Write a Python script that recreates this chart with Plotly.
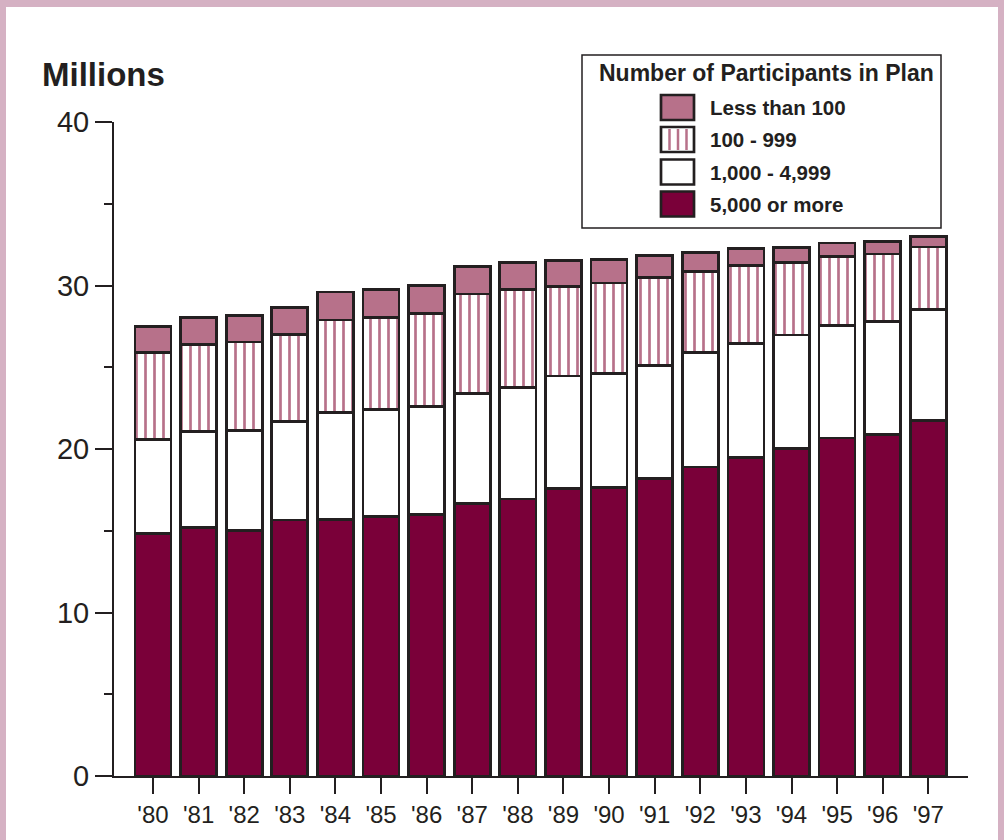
import plotly.graph_objects as go

# ---- data (millions of participants) ----
years = ["'80", "'81", "'82", "'83", "'84", "'85", "'86", "'87", "'88",
         "'89", "'90", "'91", "'92", "'93", "'94", "'95", "'96", "'97"]
plan_5000_plus = [14.84, 15.19, 15.02, 15.66, 15.70, 15.86, 16.00, 16.68, 16.94,
                  17.60, 17.65, 18.18, 18.90, 19.47, 20.02, 20.67, 20.90, 21.76]
plan_1000_4999 = [5.76, 5.89, 6.12, 6.01, 6.52, 6.56, 6.60, 6.72, 6.83,
                  6.87, 6.98, 6.94, 7.01, 6.99, 6.95, 6.89, 6.89, 6.78]
plan_100_999 = [5.30, 5.32, 5.40, 5.34, 5.67, 5.61, 5.70, 6.08, 5.97,
                5.46, 5.52, 5.36, 4.96, 4.75, 4.43, 4.22, 4.14, 3.81]
plan_under_100 = [1.60, 1.65, 1.62, 1.64, 1.71, 1.74, 1.71, 1.69, 1.68,
                  1.59, 1.43, 1.36, 1.15, 1.04, 0.91, 0.82, 0.75, 0.65]
series_names = ["5,000 or more", "1,000 - 4,999", "100 - 999", "Less than 100"]
y_ticks = [0, 10, 20, 30, 40]
legend_title = "Number of Participants in Plan"
y_title = "Millions"

# ---- style ----
INK = "#231f20"
DARK = "#7a0039"
PINK = "#b7718a"
FRAME = "#d5b1c3"
FONT = "Liberation Sans, Arial, sans-serif"
W, H = 1004, 840
L, R, T, B = 114, 36, 122, 64


def px(x):
    return (x - L) / (W - L - R)


def py(y):
    return (H - B - y) / (H - T - B)


outline = dict(color=INK, width=2.7)
fig = go.Figure()
fig.add_trace(go.Bar(x=years, y=plan_5000_plus, name=series_names[0],
                     marker=dict(color=DARK, line=outline)))
fig.add_trace(go.Bar(x=years, y=plan_1000_4999, name=series_names[1],
                     marker=dict(color="white", line=outline)))
fig.add_trace(go.Bar(x=years, y=plan_100_999, name=series_names[2],
                     marker=dict(color="white", line=outline,
                                 pattern=dict(shape="|", fgcolor=PINK, bgcolor="white",
                                              fgopacity=1, size=9, solidity=0.3))))
fig.add_trace(go.Bar(x=years, y=plan_under_100, name=series_names[3],
                     marker=dict(color=PINK, line=outline)))

shapes = []
# pink frame
shapes.append(dict(type="rect", xref="paper", yref="paper", layer="below",
                   x0=px(0), x1=px(6), y0=py(H), y1=py(0), fillcolor=FRAME, line_width=0))
shapes.append(dict(type="rect", xref="paper", yref="paper", layer="below",
                   x0=px(0), x1=px(W), y0=py(7), y1=py(0), fillcolor=FRAME, line_width=0))
shapes.append(dict(type="rect", xref="paper", yref="paper", layer="below",
                   x0=px(W - 6), x1=px(W), y0=py(H), y1=py(0), fillcolor=FRAME, line_width=0))
# legend box
shapes.append(dict(type="rect", xref="paper", yref="paper",
                   x0=px(582), x1=px(941), y0=py(228), y1=py(55),
                   fillcolor="white", line=dict(color=INK, width=1.5)))
legend_rows = [(series_names[3], 107.5, PINK, False),
               (series_names[2], 139.5, "white", True),
               (series_names[1], 172, "white", False),
               (series_names[0], 204, DARK, False)]
annotations = []
for name, cy, fill, striped in legend_rows:
    shapes.append(dict(type="rect", xref="paper", yref="paper",
                       x0=px(661), x1=px(694), y0=py(cy + 12.5), y1=py(cy - 12.5),
                       fillcolor=fill, line=dict(color=INK, width=2.7)))
    if striped:
        for sx in (669.5, 678, 686.5):
            shapes.append(dict(type="line", xref="paper", yref="paper",
                               x0=px(sx), x1=px(sx), y0=py(cy + 10.5), y1=py(cy - 10.5),
                               line=dict(color=PINK, width=2.5)))
    annotations.append(dict(text=name, xref="paper", yref="paper", x=px(708), y=py(cy),
                            xanchor="left", yanchor="middle", showarrow=False,
                            font=dict(family=FONT, size=20.5, color=INK, weight="bold")))
annotations.append(dict(text=legend_title, xref="paper", yref="paper", x=px(766), y=py(73),
                        xanchor="center", yanchor="middle", showarrow=False,
                        font=dict(family=FONT, size=23, color=INK, weight="bold")))
annotations.append(dict(text=y_title, xref="paper", yref="paper", x=px(40), y=py(74),
                        xanchor="left", yanchor="middle", showarrow=False,
                        font=dict(family=FONT, size=33, color=INK, weight="bold")))

fig.update_layout(
    width=W, height=H, barmode="stack", bargap=0.21, showlegend=False,
    paper_bgcolor="white", plot_bgcolor="white",
    margin=dict(l=L, r=R, t=T, b=B, pad=0),
    font=dict(family=FONT, color=INK),
    shapes=shapes, annotations=annotations,
    xaxis=dict(type="category", range=[-0.855, 17.87], showline=True, linecolor=INK,
               linewidth=2, ticks="outside", ticklen=16, tickwidth=2, tickcolor=INK,
               tickfont=dict(size=24, color=INK), showgrid=False, zeroline=False),
    yaxis=dict(range=[0, 40], tickvals=y_ticks, showline=True, linecolor=INK, linewidth=2,
               ticks="outside", ticklen=17, tickwidth=2, tickcolor=INK,
               tickfont=dict(size=29, color=INK), showgrid=False, zeroline=False,
               minor=dict(dtick=5, ticks="outside", ticklen=8, tickwidth=2, tickcolor=INK)),
)

fig.write_html("out.html", config={"displayModeBar": False},
               post_script="document.body.style.margin='0px';"
                           "document.body.style.overflow='hidden';")
